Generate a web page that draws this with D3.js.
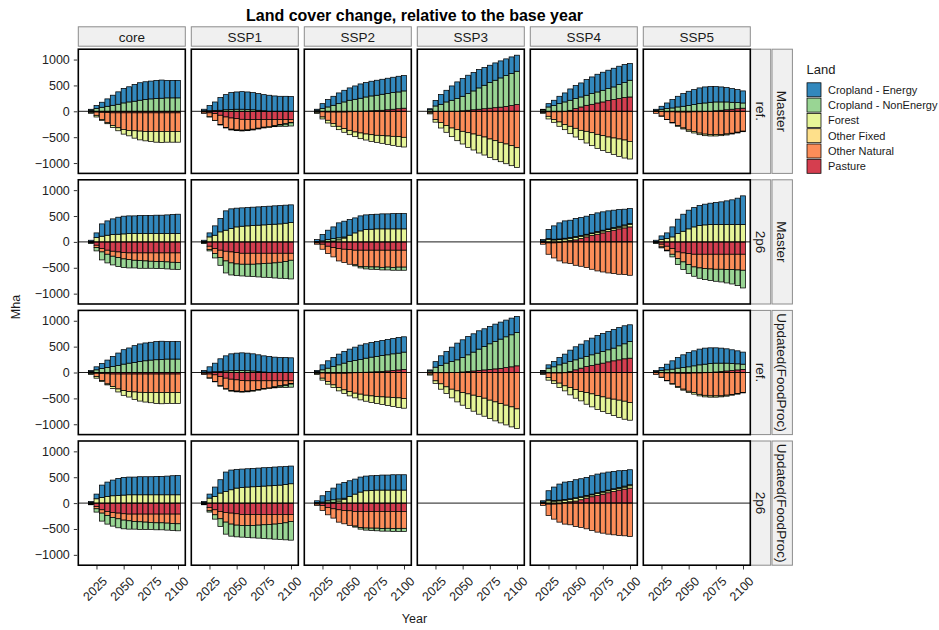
<!DOCTYPE html>
<html>
<head>
<meta charset="utf-8">
<script src="https://cdn.jsdelivr.net/npm/d3@7"></script>
<style>
  body { margin: 0; background: #fff; }
  svg { font-family: "Liberation Sans", Arial, sans-serif; }
</style>
</head>
<body>
<svg id="chart" width="939" height="630"></svg>
<script>
// ---- data -------------------------------------------------------------
const years = [2015, 2020, 2025, 2030, 2035, 2040, 2045, 2050, 2055, 2060, 2065, 2070, 2075, 2080, 2085, 2090, 2095, 2100];
const landTypes = ["Cropland - Energy", "Cropland - NonEnergy", "Forest", "Other Fixed", "Other Natural", "Pasture"];
const landColors = ["#3288BD", "#99D594", "#E6F598", "#FEE08B", "#FC8D59", "#D53E4F"];
const scenarios = ["core", "SSP1", "SSP2", "SSP3", "SSP4", "SSP5"];
const versionLabels = ["Master", "Master", "Updated(FoodProc)", "Updated(FoodProc)"];
const policyLabels = ["ref.", "2p6", "ref.", "2p6"];
const yTicks = [-1000, -500, 0, 500, 1000];
const xTicks = [2025, 2050, 2075, 2100];

// Each panel: one array per land type (order of landTypes), Mha change vs base year
const masterRef_core = [
  [0,19,58,97,143,195,240,279,293,324,338,344,344,350,351,337,337,337],
  [0,20,52,78,97,116,136,162,181,195,214,227,240,247,253,260,260,260],
  [0,-19,-32,-19,-19,-38,-58,-91,-104,-143,-169,-182,-195,-208,-215,-208,-208,-208],
  [0,0,0,0,0,0,0,0,0,0,0,0,0,0,0,0,0,0],
  [0,-10,-63,-136,-196,-243,-288,-320,-340,-346,-353,-359,-359,-359,-359,-359,-359,-359],
  [0,-10,-15,-20,-25,-30,-30,-30,-30,-30,-30,-30,-30,-30,-30,-30,-30,-30]
];
const masterRef_SSP1 = [
  [0,30,100,165,245,292,326,334,340,339,331,322,312,310,297,290,290,284],
  [0,10,10,15,20,30,35,40,40,35,30,20,10,0,-10,-25,-40,-60],
  [0,0,-5,-5,-10,-10,-15,-15,-15,-15,-15,-15,-15,-10,-10,-10,-10,-10],
  [0,0,0,0,0,0,0,0,0,0,0,0,0,0,0,0,0,0],
  [0,-25,-75,-130,-178,-202,-216,-217,-210,-199,-186,-167,-147,-140,-117,-95,-80,-54],
  [0,-15,-30,-45,-77,-110,-130,-142,-155,-160,-160,-160,-160,-160,-160,-160,-160,-160]
];
const masterRef_SSP2 = [
  [0,20,96,142,174,207,225,239,258,277,278,284,290,290,297,297,303,296],
  [0,20,52,84,116,148,181,213,232,252,272,287,295,309,312,321,324,334],
  [0,-20,-38,-52,-51,-65,-71,-84,-90,-110,-116,-129,-136,-148,-162,-174,-187,-187],
  [0,0,0,0,0,0,0,0,0,0,0,0,0,0,0,0,0,0],
  [0,-15,-100,-159,-224,-275,-320,-358,-395,-419,-439,-452,-464,-471,-477,-484,-490,-503],
  [0,-5,-10,-15,-15,-15,-15,-10,-5,0,5,10,15,20,30,40,50,60]
];
const masterRef_SSP3 = [
  [0,20,107,188,225,277,323,342,355,354,354,342,335,335,329,323,322,310],
  [0,30,103,135,181,213,245,280,322,364,412,453,495,530,565,595,619,645],
  [0,-20,-49,-104,-129,-167,-213,-245,-284,-309,-342,-348,-355,-367,-374,-381,-387,-381],
  [0,0,0,0,0,0,0,0,0,0,0,0,0,0,0,0,0,0],
  [0,-30,-156,-214,-272,-323,-355,-387,-413,-439,-464,-497,-535,-568,-600,-632,-664,-703],
  [0,0,-5,-5,-5,0,0,10,20,30,40,50,60,70,80,95,110,129]
];
const masterRef_SSP4 = [
  [0,14,64,103,142,174,219,252,271,303,322,342,349,355,361,355,348,322],
  [0,25,84,110,148,181,194,193,193,194,207,213,225,233,245,271,290,323],
  [0,-14,-51,-52,-84,-97,-142,-168,-180,-226,-251,-271,-284,-297,-316,-336,-348,-341],
  [0,0,0,0,0,0,0,0,0,0,0,0,0,0,0,0,0,0],
  [0,-20,-87,-151,-196,-253,-290,-329,-368,-387,-413,-445,-471,-497,-516,-535,-555,-581],
  [0,-5,-10,-10,-10,-5,19,52,84,116,135,161,181,206,226,245,265,277]
];
const masterRef_SSP5 = [
  [0,20,58,109,161,206,245,277,290,304,310,303,296,290,277,265,251,233],
  [0,19,39,52,65,84,97,110,129,148,161,174,171,161,151,134,118,101],
  [0,0,-5,-5,-10,-15,-20,-25,-30,-30,-30,-25,-25,-20,-20,-15,-15,-10],
  [0,0,0,0,0,0,0,0,0,0,0,0,0,0,0,0,0,0],
  [0,-34,-87,-146,-206,-260,-307,-347,-379,-412,-436,-452,-452,-451,-438,-424,-404,-384],
  [0,-5,-5,-10,-10,-15,-15,-15,-10,-10,-5,0,10,20,30,40,50,60]
];

const master2p6_core = [
  [0,22,90,238,277,303,329,342,342,342,349,349,349,355,355,361,368,374],
  [0,-12,-64,-154,-167,-168,-174,-168,-161,-148,-149,-142,-136,-135,-135,-135,-135,-135],
  [0,10,84,110,129,142,148,155,161,161,161,161,161,161,161,161,161,161],
  [0,0,0,0,0,0,0,0,0,0,0,0,0,0,0,0,0,0],
  [0,-10,-45,-65,-78,-96,-109,-123,-129,-142,-148,-155,-161,-168,-168,-174,-181,-187],
  [0,-10,-65,-129,-161,-181,-194,-206,-213,-213,-213,-213,-213,-213,-213,-213,-213,-213]
];
const master2p6_SSP1 = [
  [0,22,77,181,258,374,381,362,355,354,355,354,355,355,355,355,349,342],
  [0,-12,-26,-84,-149,-232,-233,-226,-226,-232,-239,-251,-265,-277,-291,-309,-329,-361],
  [0,10,97,129,194,226,258,290,303,310,316,323,329,335,342,348,361,374],
  [0,0,0,0,0,0,0,0,0,0,0,0,0,0,0,0,0,0],
  [0,-10,-64,-97,-142,-187,-212,-220,-212,-212,-212,-206,-199,-193,-186,-174,-161,-135],
  [0,-10,-84,-129,-161,-181,-194,-206,-220,-220,-220,-220,-220,-220,-220,-220,-220,-220]
];
const master2p6_SSP2 = [
  [0,35,122,181,225,288,305,302,290,290,283,284,283,290,290,296,296,296],
  [0,10,20,40,50,40,20,0,-20,-30,-40,-45,-50,-50,-55,-55,-60,-60],
  [0,0,0,5,15,40,75,130,174,213,239,245,252,252,252,252,252,252],
  [0,0,0,0,0,0,0,0,0,0,0,0,0,0,0,0,0,0],
  [0,-26,-97,-142,-180,-239,-258,-284,-283,-312,-321,-323,-324,-331,-326,-332,-327,-327],
  [0,-19,-45,-84,-110,-129,-142,-148,-161,-161,-161,-161,-161,-161,-161,-161,-161,-161]
];
const master2p6_SSP4 = [
  [0,25,174,258,310,335,335,349,348,349,355,361,355,348,336,323,303,290],
  [0,5,20,15,15,15,15,15,15,15,15,15,15,15,15,20,20,20],
  [0,15,45,37,43,43,43,49,43,36,36,37,37,37,36,31,38,45],
  [0,0,0,0,0,0,0,0,0,0,0,0,0,0,0,0,0,0],
  [0,-35,-219,-290,-353,-406,-419,-452,-471,-497,-529,-561,-581,-600,-613,-626,-632,-645],
  [0,-10,-20,-20,-15,13,26,39,65,97,123,148,174,200,226,252,271,290]
];
const master2p6_SSP5 = [
  [0,22,71,109,193,278,329,361,374,387,400,413,426,439,458,478,510,555],
  [0,-12,-19,-13,-51,-116,-148,-174,-180,-200,-213,-225,-232,-245,-258,-278,-303,-342],
  [0,10,45,65,97,161,206,252,290,316,329,335,335,335,335,335,335,335],
  [0,0,0,0,0,0,0,0,0,0,0,0,0,0,0,0,0,0],
  [0,-10,-52,-77,-110,-129,-174,-213,-245,-264,-277,-284,-290,-290,-296,-296,-303,-309],
  [0,-10,-45,-84,-129,-194,-213,-226,-239,-239,-239,-239,-239,-239,-239,-239,-239,-239]
];

const updatedRef_core = [
  [0,19,58,97,143,195,240,279,293,324,338,344,344,350,351,337,337,337],
  [0,20,52,78,97,116,136,162,181,195,214,227,240,247,253,260,260,260],
  [0,-19,-32,-19,-19,-38,-58,-91,-104,-143,-169,-182,-195,-208,-215,-208,-208,-208],
  [0,0,0,0,0,0,0,0,0,0,0,0,0,0,0,0,0,0],
  [0,-10,-63,-136,-196,-243,-288,-320,-340,-346,-353,-359,-359,-359,-359,-359,-359,-359],
  [0,-10,-15,-20,-25,-30,-30,-30,-30,-30,-30,-30,-30,-30,-30,-30,-30,-30]
];
const updatedRef_SSP1 = [
  [0,30,100,165,245,292,326,334,340,339,331,322,312,310,297,290,290,284],
  [0,10,10,15,20,30,35,40,40,35,30,20,10,0,-10,-25,-40,-60],
  [0,0,-5,-5,-10,-10,-15,-15,-15,-15,-15,-15,-15,-10,-10,-10,-10,-10],
  [0,0,0,0,0,0,0,0,0,0,0,0,0,0,0,0,0,0],
  [0,-25,-75,-130,-178,-202,-216,-217,-210,-199,-186,-167,-147,-140,-117,-95,-80,-54],
  [0,-15,-30,-45,-77,-110,-130,-142,-155,-160,-160,-160,-160,-160,-160,-160,-160,-160]
];
const updatedRef_SSP2 = [
  [0,20,96,142,174,207,225,239,258,277,278,284,290,290,297,297,303,296],
  [0,20,52,84,116,148,181,213,232,252,272,287,295,309,312,321,324,334],
  [0,-20,-38,-52,-51,-65,-71,-84,-90,-110,-116,-129,-136,-148,-162,-174,-187,-187],
  [0,0,0,0,0,0,0,0,0,0,0,0,0,0,0,0,0,0],
  [0,-15,-100,-159,-224,-275,-320,-358,-395,-419,-439,-452,-464,-471,-477,-484,-490,-503],
  [0,-5,-10,-15,-15,-15,-15,-10,-5,0,5,10,15,20,30,40,50,60]
];
const updatedRef_SSP3 = [
  [0,20,107,188,225,277,323,342,355,354,354,342,335,335,329,323,322,310],
  [0,30,103,135,181,213,245,280,322,364,412,453,495,530,565,595,619,645],
  [0,-20,-49,-104,-129,-167,-213,-245,-284,-309,-342,-348,-355,-367,-374,-381,-387,-381],
  [0,0,0,0,0,0,0,0,0,0,0,0,0,0,0,0,0,0],
  [0,-30,-156,-214,-272,-323,-355,-387,-413,-439,-464,-497,-535,-568,-600,-632,-664,-703],
  [0,0,-5,-5,-5,0,0,10,20,30,40,50,60,70,80,95,110,129]
];
const updatedRef_SSP4 = [
  [0,14,64,103,142,174,219,252,271,303,322,342,349,355,361,355,348,322],
  [0,25,84,110,148,181,194,193,193,194,207,213,225,233,245,271,290,323],
  [0,-14,-51,-52,-84,-97,-142,-168,-180,-226,-251,-271,-284,-297,-316,-336,-348,-341],
  [0,0,0,0,0,0,0,0,0,0,0,0,0,0,0,0,0,0],
  [0,-20,-87,-151,-196,-253,-290,-329,-368,-387,-413,-445,-471,-497,-516,-535,-555,-581],
  [0,-5,-10,-10,-10,-5,19,52,84,116,135,161,181,206,226,245,265,277]
];
const updatedRef_SSP5 = [
  [0,20,58,109,161,206,245,277,290,304,310,303,296,290,277,265,251,233],
  [0,19,39,52,65,84,97,110,129,148,161,174,171,161,151,134,118,101],
  [0,0,-5,-5,-10,-15,-20,-25,-30,-30,-30,-25,-25,-20,-20,-15,-15,-10],
  [0,0,0,0,0,0,0,0,0,0,0,0,0,0,0,0,0,0],
  [0,-34,-87,-146,-206,-260,-307,-347,-379,-412,-436,-452,-452,-451,-438,-424,-404,-384],
  [0,-5,-5,-10,-10,-15,-15,-15,-10,-10,-5,0,10,20,30,40,50,60]
];

const updated2p6_core = [
  [0,22,90,238,277,303,329,342,342,342,349,349,349,355,355,361,368,374],
  [0,-12,-64,-154,-167,-168,-174,-168,-161,-148,-149,-142,-136,-135,-135,-135,-135,-135],
  [0,10,84,110,129,142,148,155,161,161,161,161,161,161,161,161,161,161],
  [0,0,0,0,0,0,0,0,0,0,0,0,0,0,0,0,0,0],
  [0,-10,-45,-65,-78,-96,-109,-123,-129,-142,-148,-155,-161,-168,-168,-174,-181,-187],
  [0,-10,-65,-129,-161,-181,-194,-206,-213,-213,-213,-213,-213,-213,-213,-213,-213,-213]
];
const updated2p6_SSP1 = [
  [0,22,77,181,258,374,381,362,355,354,355,354,355,355,355,355,349,342],
  [0,-12,-26,-84,-149,-232,-233,-226,-226,-232,-239,-251,-265,-277,-291,-309,-329,-361],
  [0,10,97,129,194,226,258,290,303,310,316,323,329,335,342,348,361,374],
  [0,0,0,0,0,0,0,0,0,0,0,0,0,0,0,0,0,0],
  [0,-10,-64,-97,-142,-187,-212,-220,-212,-212,-212,-206,-199,-193,-186,-174,-161,-135],
  [0,-10,-84,-129,-161,-181,-194,-206,-220,-220,-220,-220,-220,-220,-220,-220,-220,-220]
];
const updated2p6_SSP2 = [
  [0,35,122,181,225,288,305,302,290,290,283,284,283,290,290,296,296,296],
  [0,10,20,40,50,40,20,0,-20,-30,-40,-45,-50,-50,-55,-55,-60,-60],
  [0,0,0,5,15,40,75,130,174,213,239,245,252,252,252,252,252,252],
  [0,0,0,0,0,0,0,0,0,0,0,0,0,0,0,0,0,0],
  [0,-26,-97,-142,-180,-239,-258,-284,-283,-312,-321,-323,-324,-331,-326,-332,-327,-327],
  [0,-19,-45,-84,-110,-129,-142,-148,-161,-161,-161,-161,-161,-161,-161,-161,-161,-161]
];
const updated2p6_SSP4 = [
  [0,25,174,258,310,335,335,349,348,349,355,361,355,348,336,323,303,290],
  [0,5,20,15,15,15,15,15,15,15,15,15,15,15,15,20,20,20],
  [0,15,45,37,43,43,43,49,43,36,36,37,37,37,36,31,38,45],
  [0,0,0,0,0,0,0,0,0,0,0,0,0,0,0,0,0,0],
  [0,-35,-219,-290,-353,-406,-419,-452,-471,-497,-529,-561,-581,-600,-613,-626,-632,-645],
  [0,-10,-20,-20,-15,13,26,39,65,97,123,148,174,200,226,252,271,290]
];

// grid of panels: rows = version/policy, columns = scenario (null = no run)
const panelGrid = [
  [masterRef_core, masterRef_SSP1, masterRef_SSP2, masterRef_SSP3, masterRef_SSP4, masterRef_SSP5],
  [master2p6_core, master2p6_SSP1, master2p6_SSP2, null, master2p6_SSP4, master2p6_SSP5],
  [updatedRef_core, updatedRef_SSP1, updatedRef_SSP2, updatedRef_SSP3, updatedRef_SSP4, updatedRef_SSP5],
  [updated2p6_core, updated2p6_SSP1, updated2p6_SSP2, null, updated2p6_SSP4, null]
];

// ---- layout -----------------------------------------------------------
const svg = d3.select("#chart");
const panelLeft = 78.3, panelW = 107, colStep = 113;
const panelTop = 49.2, panelH = 124.2, rowStep = 130.6;
const barWidthYears = 4.5;

const x = d3.scaleLinear().domain([2008.275, 2106.725]).range([0, panelW]);
const y = d3.scaleLinear().domain([-1200, 1200]).range([panelH, 0]);
const color = d3.scaleOrdinal().domain(landTypes).range(landColors);

// title
svg.append("text")
  .attr("x", 414.5).attr("y", 20.5)
  .attr("text-anchor", "middle")
  .attr("font-size", 16).attr("font-weight", "bold")
  .attr("fill", "#000")
  .text("Land cover change, relative to the base year");

// column strips
scenarios.forEach((s, c) => {
  const gx = panelLeft + c * colStep;
  svg.append("rect")
    .attr("x", gx).attr("y", 26.8).attr("width", panelW).attr("height", 19.4)
    .attr("fill", "#F0F0F0").attr("stroke", "#8c8c8c").attr("stroke-width", 1);
  svg.append("text")
    .attr("x", gx + panelW / 2).attr("y", 41.6)
    .attr("text-anchor", "middle").attr("font-size", 13.5).attr("fill", "#1a1a1a")
    .text(s);
});

panelGrid.forEach((rowData, r) => {
  const gy = panelTop + r * rowStep;

  // row strips (policy, then version)
  const stripDefs = [
    { x0: 750.3, w: 20.4, label: policyLabels[r] },
    { x0: 772.0, w: 20.4, label: versionLabels[r] }
  ];
  stripDefs.forEach(sd => {
    svg.append("rect")
      .attr("x", sd.x0).attr("y", gy).attr("width", sd.w).attr("height", panelH)
      .attr("fill", "#F0F0F0").attr("stroke", "#8c8c8c").attr("stroke-width", 1);
    svg.append("text")
      .attr("transform", `translate(${sd.x0 + 5.3},${gy + panelH / 2}) rotate(90)`)
      .attr("text-anchor", "middle").attr("font-size", 13.5).attr("fill", "#1a1a1a")
      .text(sd.label);
  });

  rowData.forEach((series, c) => {
    const gx = panelLeft + c * colStep;
    const g = svg.append("g").attr("transform", `translate(${gx},${gy})`);

    g.append("rect").attr("width", panelW).attr("height", panelH).attr("fill", "#fff");

    if (series) {
      // stack positive and negative values separately; last land type sits nearest zero
      const bars = [];
      years.forEach((yr, i) => {
        let pos = 0, neg = 0;
        for (let k = landTypes.length - 1; k >= 0; k--) {
          const v = series[k][i];
          if (v === 0) continue;
          if (v > 0) { bars.push({ yr, k, y0: pos, y1: pos + v }); pos += v; }
          else { bars.push({ yr, k, y0: neg + v, y1: neg }); neg += v; }
        }
      });
      g.selectAll("rect.bar").data(bars).join("rect")
        .attr("class", "bar")
        .attr("x", d => x(d.yr - barWidthYears / 2))
        .attr("width", d => x(d.yr + barWidthYears / 2) - x(d.yr - barWidthYears / 2))
        .attr("y", d => y(d.y1))
        .attr("height", d => y(d.y0) - y(d.y1))
        .attr("fill", d => color(landTypes[d.k]))
        .attr("stroke", "#000").attr("stroke-width", 0.75);
    }

    // zero reference line
    g.append("line")
      .attr("x1", 0).attr("x2", panelW)
      .attr("y1", y(0)).attr("y2", y(0))
      .attr("stroke", "#000").attr("stroke-width", 0.9);

    // panel border
    g.append("rect").attr("width", panelW).attr("height", panelH)
      .attr("fill", "none").attr("stroke", "#000").attr("stroke-width", 1.6);

    // y axis on first column
    if (c === 0) {
      const ya = g.append("g")
        .call(d3.axisLeft(y).tickValues(yTicks).tickFormat(d3.format("d")).tickSize(3.5).tickPadding(4));
      ya.select(".domain").remove();
      ya.selectAll(".tick line").attr("stroke", "#333");
      ya.selectAll(".tick text").attr("font-size", 12.5).attr("fill", "#222")
        .attr("font-family", "Liberation Sans, Arial, sans-serif");
      ya.attr("transform", "translate(-1,0)");
    }

    // x axis on bottom row
    if (r === panelGrid.length - 1) {
      const xa = g.append("g").attr("transform", `translate(0,${panelH + 0.8})`)
        .call(d3.axisBottom(x).tickValues(xTicks).tickFormat(d3.format("d")).tickSize(3.5).tickPadding(2));
      xa.select(".domain").remove();
      xa.selectAll(".tick line").attr("stroke", "#333");
      xa.selectAll(".tick text")
        .attr("font-size", 12.5).attr("fill", "#222")
        .attr("font-family", "Liberation Sans, Arial, sans-serif")
        .attr("text-anchor", "end")
        .attr("dy", "0.35em")
        .attr("transform", "translate(4,9) rotate(-45)");
    }
  });
});

// axis titles
svg.append("text")
  .attr("x", 414.5).attr("y", 623)
  .attr("text-anchor", "middle").attr("font-size", 12.5).attr("fill", "#1a1a1a")
  .text("Year");
svg.append("text")
  .attr("transform", `translate(20,307) rotate(-90)`)
  .attr("text-anchor", "middle").attr("font-size", 12.5).attr("fill", "#1a1a1a")
  .text("Mha");

// legend
const legend = svg.append("g").attr("transform", "translate(806.5,0)");
legend.append("text")
  .attr("x", 0).attr("y", 74)
  .attr("font-size", 13).attr("fill", "#1a1a1a")
  .text("Land");
landTypes.forEach((t, i) => {
  const ky = 82.8 + i * 15.3;
  legend.append("rect")
    .attr("x", 0.5).attr("y", ky).attr("width", 14).attr("height", 14)
    .attr("fill", color(t)).attr("stroke", "#000").attr("stroke-width", 0.75);
  legend.append("text")
    .attr("x", 21.5).attr("y", ky + 11)
    .attr("font-size", 11).attr("fill", "#1a1a1a")
    .text(t);
});
</script>
</body>
</html>
